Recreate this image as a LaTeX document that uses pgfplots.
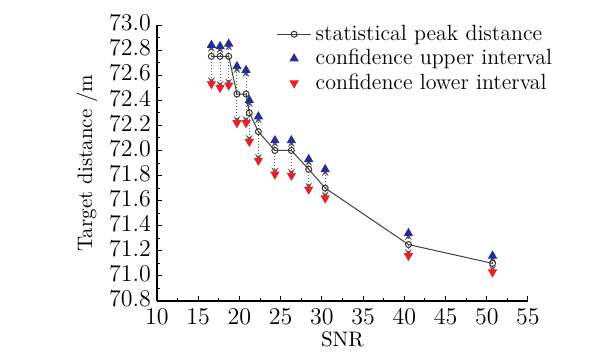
\documentclass[border=0pt]{standalone}
\usepackage{pgfplots}
\pgfplotsset{compat=1.18}
\usepackage{pgfplotstable}
\pgfplotstableread{
x y up lo
16.6 72.75 72.84 72.53
17.65 72.75 72.83 72.50
18.7 72.75 72.85 72.52
19.7 72.45 72.67 72.22
20.8 72.45 72.64 72.22
21.2 72.30 72.40 72.07
22.3 72.15 72.27 71.92
24.3 72.00 72.08 71.81
26.3 72.00 72.08 71.80
28.4 71.85 71.93 71.69
30.4 71.70 71.85 71.62
40.5 71.25 71.34 71.16
50.7 71.10 71.16 71.03
}\data
\definecolor{upblue}{RGB}{35,45,150}
\definecolor{lored}{RGB}{235,30,35}
\begin{document}
\begin{tikzpicture}
\begin{axis}[
  scale only axis,
  width=185.5pt, height=138pt,
  xmin=10, xmax=55, ymin=70.8, ymax=73.0,
  axis x line*=bottom, axis y line*=left,
  axis line style={-, line width=0.6pt},
  xtick={10,15,...,55},
  ytick={70.8,71.0,...,73.0},
  minor x tick num=1, minor y tick num=1,
  tick align=inside,
  major tick length=2.6pt, minor tick length=1.5pt,
  tick style={black, line width=0.5pt},
  tick label style={font=\fontsize{11.8}{13}\selectfont},
  xticklabel style={yshift=-0.5pt},
  yticklabel style={xshift=0.5pt, yshift=1pt, /pgf/number format/.cd, fixed, fixed zerofill, precision=1},
  xlabel={SNR}, ylabel={Target distance /m},
  label style={font=\fontsize{10.5}{12}\selectfont},
  xlabel style={yshift=3.5pt},
  ylabel style={yshift=-1pt},
  legend style={draw=none, fill=none, font=\fontsize{11}{13}\selectfont,
    at={(rel axis cs:0.305,1.03)}, anchor=north west, row sep=-1pt},
  legend cell align=left,
  clip=false,
]
\addplot[forget plot, gray!70!black, densely dotted, line width=0.5pt, -stealth,
  quiver={u=0, v=\thisrow{up}-\thisrow{y}}] table[x=x, y=y] {\data};
\addplot[forget plot, gray!70!black, densely dotted, line width=0.5pt, -stealth,
  quiver={u=0, v=\thisrow{lo}-\thisrow{y}}] table[x=x, y=y] {\data};
\addplot[black!75, line width=0.5pt, mark=o, mark size=1.5pt, mark options={black!80}] table[x=x, y=y] {\data};
\addlegendentry{statistical peak distance}
\addplot[only marks, mark=triangle*, mark size=2.3pt, color=upblue] table[x=x, y=up] {\data};
\addlegendentry{confidence upper interval}
\addplot[only marks, mark=triangle*, mark size=2.3pt, mark options={rotate=180}, color=lored] table[x=x, y=lo] {\data};
\addlegendentry{confidence lower interval}
\end{axis}
\useasboundingbox (-78.5pt,-23pt) rectangle (229.5pt,150.5pt);
\end{tikzpicture}
\end{document}
